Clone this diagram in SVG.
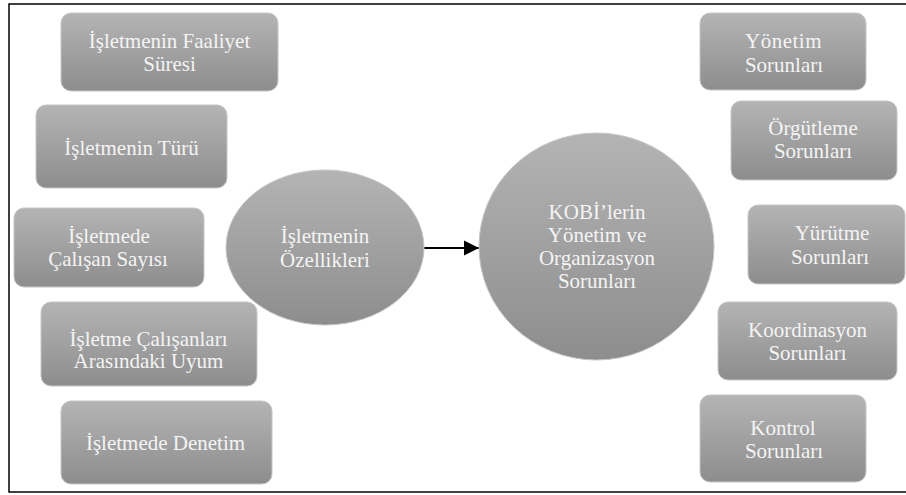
<svg xmlns="http://www.w3.org/2000/svg" width="906" height="495" viewBox="0 0 906 495">
<defs>
<linearGradient id="g" x1="0" y1="0" x2="0" y2="1">
<stop offset="0" stop-color="#b4b4b4"/>
<stop offset="1" stop-color="#8d8d8d"/>
</linearGradient>
<marker id="ah" viewBox="0 0 10 10" refX="10" refY="5" markerWidth="7" markerHeight="7" markerUnits="strokeWidth" orient="auto">
<path d="M0,0 L10,5 L0,10 z" fill="#000"/>
</marker>
</defs>
<style>
.n{fill:url(#g);stroke:#c6c6c6;stroke-width:1}
.t{font-family:"Liberation Serif","Times New Roman",serif;font-size:21px;fill:#f4f4f4;text-anchor:middle}
</style>
<rect x="0" y="0" width="906" height="495" fill="#fff"/>
<rect x="9" y="4" width="910" height="488" fill="none" stroke="#000" stroke-width="1.5"/>
<g id="connectors">
<line x1="424" y1="248" x2="479" y2="248" stroke="#000" stroke-width="2.2" marker-end="url(#ah)"/>
</g>
<g id="n1"><rect class="n" x="61" y="13" width="217" height="78" rx="10"/><text class="t" x="169.5" y="48">İşletmenin Faaliyet</text><text class="t" x="169.5" y="71">Süresi</text></g>
<g id="n2"><rect class="n" x="36" y="105" width="191" height="83" rx="10"/><text class="t" x="131.5" y="155">İşletmenin Türü</text></g>
<g id="n3"><rect class="n" x="14" y="208" width="190" height="79" rx="10"/><text class="t" x="109" y="243">İşletmede</text><text class="t" x="108" y="266">Çalışan Sayısı</text></g>
<g id="n4"><rect class="n" x="41" y="302" width="216" height="84" rx="10"/><text class="t" x="148.5" y="346">İşletme Çalışanları</text><text class="t" x="148.5" y="368">Arasındaki Uyum</text></g>
<g id="n5"><rect class="n" x="61" y="401" width="211" height="83" rx="10"/><text class="t" x="165.5" y="450">İşletmede Denetim</text></g>
<g id="e1"><ellipse class="n" cx="325" cy="247.5" rx="99" ry="77.5" stroke="none"/><text class="t" x="325" y="243">İşletmenin</text><text class="t" x="325" y="267">Özellikleri</text></g>
<g id="c1"><ellipse class="n" cx="596.5" cy="246.5" rx="117.5" ry="113.5" stroke="none"/><text class="t" x="597" y="219">KOBİ’lerin</text><text class="t" x="597" y="242">Yönetim ve</text><text class="t" x="597" y="265">Organizasyon</text><text class="t" x="597" y="288">Sorunları</text></g>
<g id="r1"><rect class="n" x="700" y="13" width="166" height="77" rx="10"/><text class="t" x="783.5" y="48" letter-spacing="0.5">Yönetim</text><text class="t" x="784" y="72">Sorunları</text></g>
<g id="r2"><rect class="n" x="731" y="101" width="166" height="79" rx="10"/><text class="t" x="813" y="135">Örgütleme</text><text class="t" x="813" y="158">Sorunları</text></g>
<g id="r3"><rect class="n" x="748" y="205" width="157" height="79" rx="10"/><text class="t" x="832" y="240">Yürütme</text><text class="t" x="830" y="264">Sorunları</text></g>
<g id="r4"><rect class="n" x="718" y="302" width="179" height="78" rx="10"/><text class="t" x="807.5" y="337">Koordinasyon</text><text class="t" x="807.5" y="360">Sorunları</text></g>
<g id="r5"><rect class="n" x="700" y="395" width="166" height="87" rx="10"/><text class="t" x="783" y="435">Kontrol</text><text class="t" x="784" y="458">Sorunları</text></g>
</svg>
